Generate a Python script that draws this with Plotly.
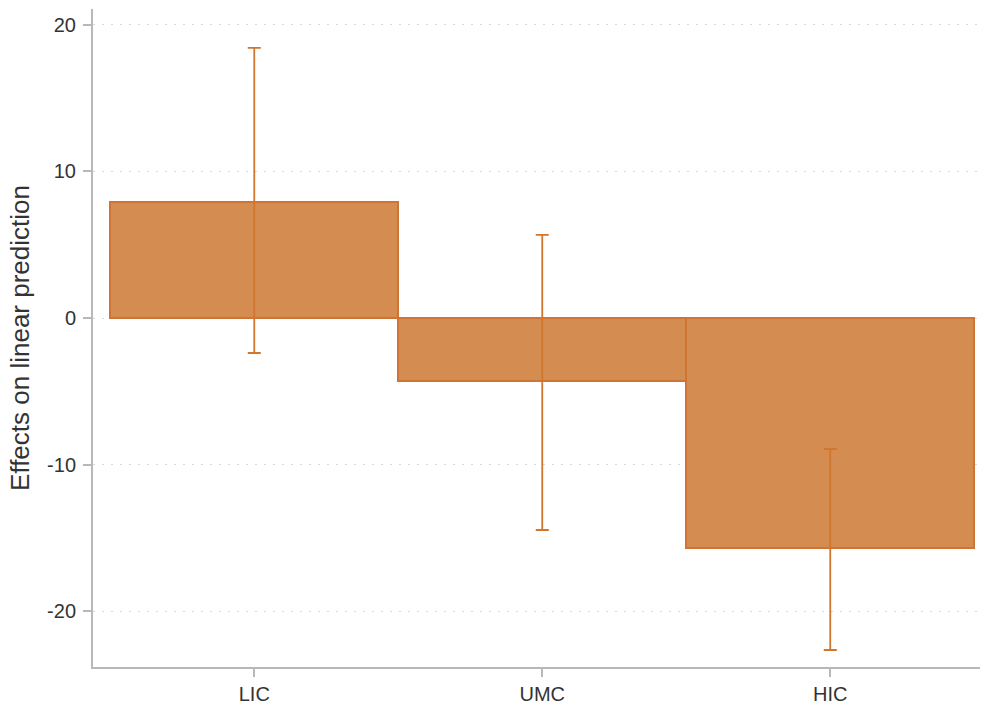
import plotly.graph_objects as go

groups = ["LIC", "UMC", "HIC"]
effects = [7.92, -4.30, -15.70]
ci_upper = [18.43, 5.67, -8.94]
ci_lower = [-2.39, -14.47, -22.66]
y_ticks = [-20, -10, 0, 10, 20]

err_plus = [u - e for u, e in zip(ci_upper, effects)]
err_minus = [e - l for e, l in zip(effects, ci_lower)]

fig = go.Figure()
fig.add_trace(go.Bar(
    x=[0, 1, 2],
    y=effects,
    width=1.0,
    marker=dict(color="#d58c51", line=dict(color="#cf7432", width=2)),
    error_y=dict(type="data", symmetric=False, array=err_plus, arrayminus=err_minus,
                 color="#d0762f", thickness=1.8, width=6.5),
    showlegend=False,
))

fig.update_layout(
    width=981, height=711,
    margin=dict(l=93, r=1, t=9, b=44),
    plot_bgcolor="white", paper_bgcolor="white",
    font=dict(family="Liberation Sans, Arial, sans-serif", size=20, color="#333333"),
    bargap=0,
)
fig.update_xaxes(
    range=[-0.56, 2.52],
    tickmode="array", tickvals=[0, 1, 2], ticktext=groups,
    showline=True, linecolor="#b8b8b8", linewidth=2,
    ticks="outside", ticklen=8, tickcolor="#b8b8b8", tickwidth=2,
    showgrid=False, zeroline=False,
)
fig.update_yaxes(
    range=[-23.82, 21.09],
    tickmode="array", tickvals=y_ticks, ticktext=[str(v) for v in y_ticks],
    showline=True, linecolor="#b8b8b8", linewidth=2,
    ticks="outside", ticklen=8, tickcolor="#b8b8b8", tickwidth=2,
    ticklabelstandoff=3,
    showgrid=True, gridcolor="#d8d8d8", griddash="1.5px,7.5px", gridwidth=1,
    zeroline=False,
    title=dict(text="Effects on linear prediction", font=dict(size=26), standoff=10),
)

fig.write_html("out.html")
